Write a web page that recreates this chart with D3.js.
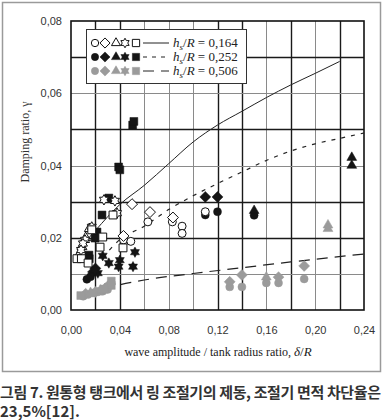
<!DOCTYPE html>
<html>
<head>
<meta charset="utf-8">
<script src="https://cdn.jsdelivr.net/npm/d3@7"></script>
<style>
  body { margin: 0; background: #fff; }
  svg { display: block; }
</style>
</head>
<body>
<div id="chart"></div>
<script>
// axis ticks
let xGridTicks = [0.02, 0.04, 0.06, 0.08, 0.10, 0.12, 0.14, 0.16, 0.18, 0.20, 0.22]
let yGridTicks = [0.01, 0.02, 0.03, 0.04, 0.05, 0.06, 0.07]
let xLabelTicks = [0, 0.04, 0.08, 0.12, 0.16, 0.20, 0.24]
let yLabelTicks = [0, 0.02, 0.04, 0.06, 0.08]

// fitted curves [delta/R, gamma]
let curve164 = [[0.012,0.019],[0.02,0.022],[0.03,0.0258],[0.04,0.0292],[0.06,0.0345],[0.08,0.0405],[0.10,0.0465],[0.12,0.0512],[0.14,0.0550],[0.16,0.0588],[0.18,0.0623],[0.20,0.0655],[0.22,0.0688]]
let curve252 = [[0.026,0.0145],[0.04,0.0195],[0.06,0.0232],[0.08,0.0278],[0.10,0.0316],[0.12,0.0350],[0.14,0.0382],[0.16,0.0414],[0.18,0.0440],[0.20,0.0460],[0.22,0.0475],[0.24,0.0490]]
let curve506 = [[0.012,0.0045],[0.03,0.0062],[0.06,0.0083],[0.10,0.0101],[0.14,0.0117],[0.18,0.0133],[0.24,0.0155]]

// hs/R = 0.164 (open markers)
let open164Circle = [[0.043,0.0194],[0.049,0.0190],[0.063,0.0244],[0.083,0.0244],[0.091,0.0232],[0.091,0.0212],[0.110,0.0272]]
let open164Diamond = [[0.050,0.0293],[0.0647,0.0271],[0.0835,0.0256],[0.043,0.0205]]
let open164Triangle = [[0.015,0.0225],[0.009,0.0175],[0.006,0.0150],[0.012,0.0200]]
let open164Star = [[0.027,0.0305],[0.036,0.0302],[0.0377,0.0268],[0.0115,0.0194],[0.0098,0.0184],[0.0082,0.0166],[0.017,0.0230]]
let open164Square = [[0.017,0.0222],[0.026,0.0202],[0.0238,0.0174],[0.0344,0.0263],[0.0426,0.0172],[0.0049,0.0142],[0.0085,0.0142],[0.014,0.0130]]

// hs/R = 0.252 (black markers)
let black252Circle = [[0.013,0.0085],[0.016,0.0092],[0.110,0.0263],[0.120,0.0272],[0.150,0.0262]]
let black252Diamond = [[0.110,0.0313],[0.120,0.0313],[0.018,0.0105],[0.020,0.0115]]
let black252Triangle = [[0.230,0.0422],[0.230,0.0400],[0.150,0.0275]]
let black252Star = [[0.0524,0.0160],[0.0508,0.0120],[0.040,0.0138],[0.039,0.0120],[0.031,0.0130],[0.026,0.0150],[0.022,0.0102],[0.0197,0.0110]]
let black252Square = [[0.031,0.0310],[0.0254,0.0263],[0.0213,0.0216],[0.0197,0.0199],[0.0147,0.0152],[0.015,0.0142],[0.039,0.0396],[0.040,0.0388],[0.0505,0.0512],[0.0515,0.0522]]

// hs/R = 0.506 (gray markers)
let gray506Circle = [[0.130,0.0064],[0.140,0.0064],[0.160,0.0075],[0.170,0.0075],[0.191,0.0086],[0.010,0.0038],[0.014,0.0043],[0.018,0.0047],[0.022,0.0050],[0.026,0.0052],[0.030,0.0057]]
let gray506Diamond = [[0.130,0.0078],[0.140,0.0097],[0.170,0.0091],[0.191,0.0122],[0.012,0.0045],[0.020,0.0050],[0.028,0.0060],[0.032,0.0072]]
let gray506Triangle = [[0.2105,0.0235],[0.2105,0.0225],[0.160,0.0091],[0.016,0.0048],[0.024,0.0055]]
let gray506Star = [[0.025,0.0055],[0.031,0.0066]]
let gray506Square = [[0.008,0.0040],[0.033,0.0080],[0.033,0.0068],[0.027,0.0058]]

let legendLabels = ['0,164', '0,252', '0,506']

let W = 385, H = 420
let svg = d3.select('#chart').append('svg').attr('width', W).attr('height', H)

let x = d3.scaleLinear().domain([0, 0.24]).range([71, 364])
let y = d3.scaleLinear().domain([0, 0.08]).range([310, 21])
let fmt = function(d){ return d3.format('.2f')(d).replace('.', ',') }

// outer frame
svg.append('rect')
  .attr('x', 2.5).attr('y', 2.5).attr('width', 378).attr('height', 369)
  .attr('fill', 'none').attr('stroke', '#9a9a9a').attr('stroke-width', 1.5)

// grid
let darkX = [0.02, 0.04, 0.12, 0.14, 0.18, 0.22]
let darkY = [0.02, 0.03, 0.05, 0.07]
svg.append('g').selectAll('line').data(xGridTicks).enter().append('line')
  .attr('x1', d => Math.round(x(d)) + 0.5).attr('x2', d => Math.round(x(d)) + 0.5)
  .attr('y1', y(0)).attr('y2', y(0.08))
  .attr('stroke', d => darkX.some(v => Math.abs(v - d) < 1e-9) ? '#1a1a1a' : '#8a8a8a')
  .attr('stroke-width', d => darkX.some(v => Math.abs(v - d) < 1e-9) ? 1.4 : 1)
svg.append('g').selectAll('line').data(yGridTicks).enter().append('line')
  .attr('y1', d => Math.round(y(d)) + 0.5).attr('y2', d => Math.round(y(d)) + 0.5)
  .attr('x1', x(0)).attr('x2', x(0.24))
  .attr('stroke', d => darkY.some(v => Math.abs(v - d) < 1e-9) ? '#1a1a1a' : '#8a8a8a')
  .attr('stroke-width', d => darkY.some(v => Math.abs(v - d) < 1e-9) ? 1.4 : 1)

// plot frame
svg.append('rect')
  .attr('x', x(0)).attr('y', y(0.08))
  .attr('width', x(0.24) - x(0)).attr('height', y(0) - y(0.08))
  .attr('fill', 'none').attr('stroke', '#111').attr('stroke-width', 1.6)

// axes (labels only)
let xAxis = svg.append('g')
  .attr('transform', 'translate(0,' + (y(0) + 13) + ')')
  .call(d3.axisBottom(x).tickValues(xLabelTicks).tickFormat(fmt).tickSize(0))
xAxis.select('.domain').remove()
xAxis.selectAll('text').attr('font-family', 'Arial, "Liberation Sans", sans-serif')
  .attr('font-size', 11).attr('fill', '#333')

let yAxis = svg.append('g')
  .attr('transform', 'translate(' + (x(0) - 6) + ',0)')
  .call(d3.axisLeft(y).tickValues(yLabelTicks).tickFormat(fmt).tickSize(0))
yAxis.select('.domain').remove()
yAxis.selectAll('text').attr('font-family', 'Arial, "Liberation Sans", sans-serif')
  .attr('font-size', 11).attr('fill', '#333')

// axis titles
let xt = svg.append('text')
  .attr('x', 218).attr('y', 356).attr('text-anchor', 'middle')
  .attr('font-family', '"Liberation Serif", "Times New Roman", serif')
  .attr('font-size', 12).attr('fill', '#222')
xt.append('tspan').text('wave amplitude / tank radius ratio, ')
xt.append('tspan').attr('font-style', 'italic').attr('font-size', 13).text('δ')
xt.append('tspan').attr('font-size', 13).text('/')
xt.append('tspan').attr('font-style', 'italic').attr('font-size', 13).text('R')

svg.append('text')
  .attr('transform', 'translate(29,142) rotate(-90)')
  .attr('text-anchor', 'middle')
  .attr('font-family', '"Liberation Serif", "Times New Roman", serif')
  .attr('font-size', 12).attr('fill', '#333')
  .text('Damping ratio, γ')

// curves
let line = d3.line().x(d => x(d[0])).y(d => y(d[1])).curve(d3.curveMonotoneX)
let plot = svg.append('g')
plot.append('path').datum(curve164).attr('d', line)
  .attr('fill', 'none').attr('stroke', '#222').attr('stroke-width', 1)
plot.append('path').datum(curve252).attr('d', line)
  .attr('fill', 'none').attr('stroke', '#222').attr('stroke-width', 1.2).attr('stroke-dasharray', '4,6')
plot.append('path').datum(curve506).attr('d', line)
  .attr('fill', 'none').attr('stroke', '#222').attr('stroke-width', 1.2).attr('stroke-dasharray', '11,7')

// symbols
let symDiamond = {
  draw: function(ctx, size){
    let r = Math.sqrt(size / 2)
    ctx.moveTo(0, -r); ctx.lineTo(r, 0); ctx.lineTo(0, r); ctx.lineTo(-r, 0); ctx.closePath()
  }
}
let symStar = {
  draw: function(ctx, size){
    let R = Math.sqrt(size) * 0.62, r = R * 0.577
    for(let i = 0; i < 12; i++){
      let a = -Math.PI / 2 + i * Math.PI / 6
      let rr = (i % 2 == 0) ? R : r
      if(i == 0) ctx.moveTo(rr * Math.cos(a), rr * Math.sin(a))
      else ctx.lineTo(rr * Math.cos(a), rr * Math.sin(a))
    }
    ctx.closePath()
  }
}
let shapes = [
  {type: d3.symbolCircle, size: 50},
  {type: symDiamond, size: 60},
  {type: d3.symbolTriangle, size: 42},
  {type: symStar, size: 70},
  {type: d3.symbolSquare, size: 62}
]
let styles = [
  {fill: '#fff', stroke: '#111', sw: 1},
  {fill: '#151515', stroke: '#151515', sw: 0.5},
  {fill: '#9b9b9b', stroke: '#9b9b9b', sw: 0.5}
]
let groups = [
  [open164Circle, open164Diamond, open164Triangle, open164Star, open164Square],
  [black252Circle, black252Diamond, black252Triangle, black252Star, black252Square],
  [gray506Circle, gray506Diamond, gray506Triangle, gray506Star, gray506Square]
]

// draw gray first, then black, then open
;[2, 1, 0].forEach(function(g){
  groups[g].forEach(function(pts, s){
    plot.append('g').selectAll('path').data(pts).enter().append('path')
      .attr('transform', d => 'translate(' + x(d[0]) + ',' + y(d[1]) + ')')
      .attr('d', d3.symbol().type(shapes[s].type).size(shapes[s].size))
      .attr('fill', styles[g].fill).attr('stroke', styles[g].stroke)
      .attr('stroke-width', styles[g].sw)
  })
})

// legend
let lg = svg.append('g')
lg.append('rect').attr('x', 86.5).attr('y', 29.5).attr('width', 160).attr('height', 54)
  .attr('fill', '#fff').attr('stroke', '#333').attr('stroke-width', 1)
let legendSymX = [95, 105, 116, 125, 136]
let rowY = [43, 57, 71]
let dashes = [null, '4,5', '11,7']
rowY.forEach(function(ry, g){
  shapes.forEach(function(sh, s){
    lg.append('path')
      .attr('transform', 'translate(' + legendSymX[s] + ',' + ry + ')')
      .attr('d', d3.symbol().type(sh.type).size(sh.size * 0.85))
      .attr('fill', styles[g].fill).attr('stroke', styles[g].stroke)
      .attr('stroke-width', styles[g].sw)
  })
  lg.append('line').attr('x1', 143).attr('x2', 169).attr('y1', ry).attr('y2', ry)
    .attr('stroke', '#222').attr('stroke-width', 1)
    .attr('stroke-dasharray', dashes[g])
  let t = lg.append('text').attr('x', 173).attr('y', ry + 4)
    .attr('font-family', '"Liberation Serif", "Times New Roman", serif')
    .attr('font-size', 13).attr('fill', '#222')
  t.append('tspan').attr('font-style', 'italic').text('h')
  t.append('tspan').attr('font-style', 'italic').attr('font-size', 9).attr('dy', 3).text('s')
  t.append('tspan').attr('dy', -3).text('/')
  t.append('tspan').attr('font-style', 'italic').text('R')
  t.append('tspan').text(' = ' + legendLabels[g])
})

// caption
let cap = svg.append('g')
  .attr('font-family', '"Noto Sans CJK KR", sans-serif')
  .attr('font-size', 15).attr('font-weight', 'bold').attr('fill', '#333')
cap.append('text').attr('x', 0).attr('y', 398)
  .attr('textLength', 381).attr('lengthAdjust', 'spacing')
  .text('그림 7. 원통형 탱크에서 링 조절기의 제동, 조절기 면적 차단율은')
cap.append('text').attr('x', 0).attr('y', 417)
  .text('23,5%[12].')
</script>
</body>
</html>
